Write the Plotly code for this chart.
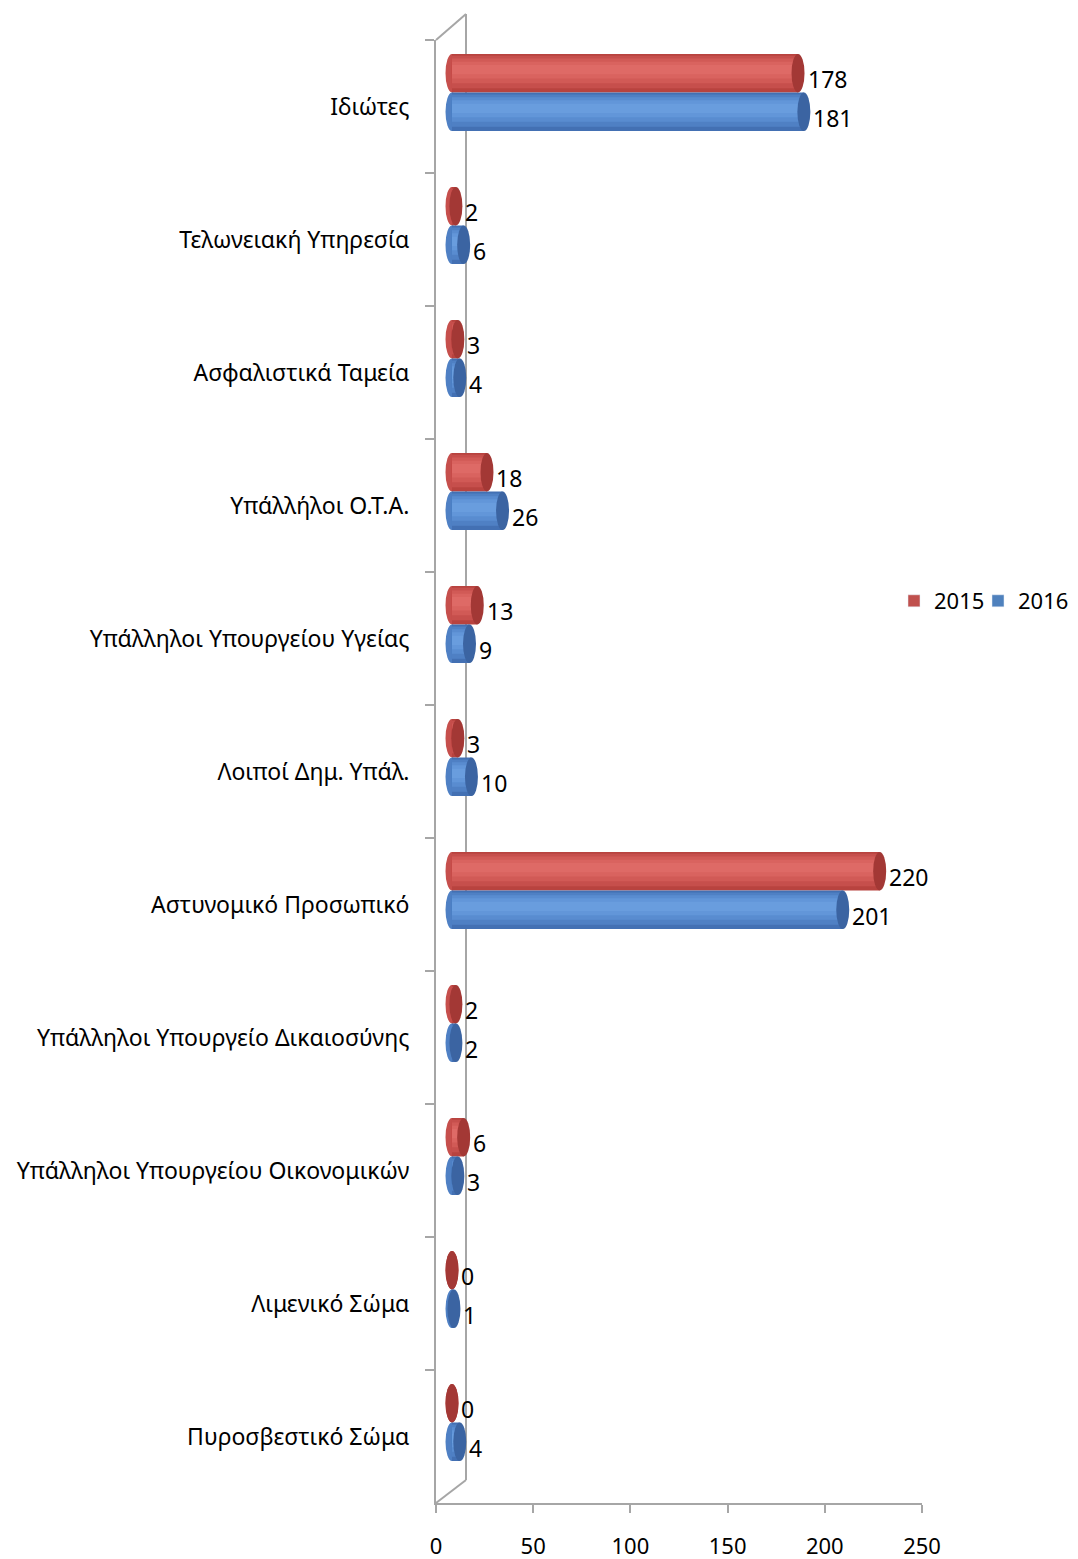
import plotly.graph_objects as go

categories = [
    "Ιδιώτες",
    "Τελωνειακή Υπηρεσία",
    "Ασφαλιστικά Ταμεία",
    "Υπάλλήλοι Ο.Τ.Α.",
    "Υπάλληλοι Υπουργείου Υγείας",
    "Λοιποί Δημ. Υπάλ.",
    "Αστυνομικό Προσωπικό",
    "Υπάλληλοι Υπουργείο Δικαιοσύνης",
    "Υπάλληλοι Υπουργείου Οικονομικών",
    "Λιμενικό Σώμα",
    "Πυροσβεστικό Σώμα",
]
values_2015 = [178, 2, 3, 18, 13, 3, 220, 2, 6, 0, 0]
values_2016 = [181, 6, 4, 26, 9, 10, 201, 2, 3, 1, 4]
x_ticks = [0, 50, 100, 150, 200, 250]

# the page body adds an 8px margin, so the figure is 8px smaller
OFF = 8
W, H = 1078 - OFF, 1559 - OFF
FONT = "Noto Sans"
FS_CAT = 23
FS_NUM = 23
FS_TICK = 22
FS_LEG = 22

# pixel geometry (in window pixels)
ax_left, ax_right = 436, 922          # visible x axis 0..250
ax_top, ax_bottom = 40, 1503          # visible category axis
dx, dy = 16, 14                       # depth shift of bars
pl_left, pl_right = ax_left, ax_right + dx
pl_top, pl_bottom = ax_top - dy, ax_bottom
PW, PH = pl_right - pl_left, pl_bottom - pl_top
ppu = (ax_right - ax_left) / 250.0
x2_min = -8

n = len(categories)
bw = 0.29
cap_hw = 6.5 / ppu

def fx(px):
    return (px - pl_left) / PW

def fy(py):
    return (pl_bottom - py) / PH

red = dict(shades=["#b8433f", "#c64f4c", "#d15a56", "#d9635f", "#de6a66"],
           cap="#a33835", leg="#c0504d", legend="legend", legx=894)
blue = dict(shades=["#4370b3", "#4f80c4", "#598cd0", "#6296d9", "#699dde"],
            cap="#3b64a2", leg="#4f81bd", legend="legend2", legx=978)
layers = [(1.0, 0.0), (0.84, -0.03), (0.64, -0.06), (0.44, -0.08), (0.24, -0.09)]

fig = go.Figure()

# invisible trace for the visible category axis
fig.add_trace(go.Scatter(x=[0] * n, y=categories, mode="markers",
                         marker=dict(opacity=0), showlegend=False,
                         hoverinfo="skip", xaxis="x", yaxis="y"))

series = [("2015", values_2015, red, -bw),
          ("2016", values_2016, blue, 0.0)]

shapes = []
annotations = []
legends = {}
for name, vals, col, off in series:
    # cylinder body: shaded layers
    for k, ((frac, shift), colr) in enumerate(zip(layers, col["shades"])):
        w = bw * frac
        o = off + (bw - w) / 2 + shift * bw
        fig.add_trace(go.Bar(
            name=name, x=vals, y=categories, orientation="h",
            width=w, offset=o, marker=dict(color=colr, line=dict(width=0)),
            xaxis="x2", yaxis="y2", showlegend=False,
            hoverinfo="x+name" if k == 0 else "skip"))
    # legend entry with flat colour
    fig.add_trace(go.Bar(name=name, x=[None], y=[categories[0]], orientation="h",
                         marker=dict(color=col["leg"]), xaxis="x2", yaxis="y2",
                         showlegend=True, hoverinfo="skip", legend=col["legend"]))
    legends[col["legend"]] = dict(
        orientation="h", xref="container", yref="container",
        x=(col["legx"] - OFF) / W, y=1 - (601 - OFF) / H,
        xanchor="left", yanchor="middle",
        font=dict(family=FONT, size=FS_LEG), itemwidth=30,
        bgcolor="rgba(0,0,0,0)")
    for i, v in enumerate(vals):
        y0, y1 = i + off, i + off + bw
        shapes.append(dict(type="circle", xref="x2", yref="y2",
                           x0=-cap_hw, x1=cap_hw, y0=y0, y1=y1,
                           fillcolor=col["shades"][1], line=dict(width=0),
                           layer="below"))
        shapes.append(dict(type="circle", xref="x2", yref="y2",
                           x0=v - cap_hw, x1=v + cap_hw, y0=y0, y1=y1,
                           fillcolor=col["cap"], line=dict(width=0), layer="above"))
        annotations.append(dict(x=v, y=i + off + bw / 2, xref="x2", yref="y2",
                                text=str(v), showarrow=False, xanchor="left",
                                xshift=6.5 + 1, yshift=-6,
                                font=dict(family=FONT, size=FS_NUM, color="black")))

grey = "#a6a6a6"
# 3D wall lines
def line(x0, y0, x1, y1):
    shapes.append(dict(type="line", xref="paper", yref="paper",
                       x0=fx(x0), y0=fy(y0), x1=fx(x1), y1=fy(y1),
                       line=dict(color=grey, width=2), layer="below"))

line(436, 40, 466, 14)
line(466, 14, 466, 1480)
line(436, 1503, 466, 1480)

x2_lo_px = ax_left + dx + x2_min * ppu

fig.update_layout(
    width=W, height=H,
    margin=dict(l=pl_left - OFF, r=1078 - pl_right, t=pl_top - OFF,
                b=1559 - pl_bottom, pad=0, autoexpand=False),
    paper_bgcolor="white", plot_bgcolor="rgba(0,0,0,0)",
    barmode="overlay",
    font=dict(family=FONT, size=FS_NUM, color="black"),
    xaxis=dict(domain=[0, (ax_right - pl_left) / PW], range=[0, 250],
               tickvals=x_ticks, ticks="outside", ticklen=8, tickcolor=grey,
               tickwidth=2, showline=True, linecolor=grey, linewidth=2,
               showgrid=False, zeroline=False, anchor="y",
               ticklabelstandoff=15, fixedrange=True,
               tickfont=dict(family=FONT, size=FS_TICK)),
    yaxis=dict(domain=[0, (ax_bottom - ax_top) / PH], type="category",
               categoryorder="array", categoryarray=categories,
               range=[n - 0.5, -0.5], tickson="boundaries", ticks="outside",
               ticklen=9, tickcolor=grey, tickwidth=2, showline=True,
               linecolor=grey, linewidth=2, showgrid=False, zeroline=False,
               anchor="x", ticklabelstandoff=20, fixedrange=True,
               tickfont=dict(family=FONT, size=FS_CAT)),
    xaxis2=dict(domain=[fx(x2_lo_px), 1],
                range=[x2_min, x2_min + (pl_right - x2_lo_px) / ppu],
                visible=False, anchor="y2", fixedrange=True),
    yaxis2=dict(domain=[fy(ax_bottom - dy), 1], type="category",
                categoryorder="array", categoryarray=categories,
                range=[n - 0.5, -0.5], visible=False, anchor="x2",
                fixedrange=True),
    shapes=shapes, annotations=annotations,
    legend=legends["legend"], legend2=legends["legend2"],
    showlegend=True,
)

fig.write_html("out.html")
